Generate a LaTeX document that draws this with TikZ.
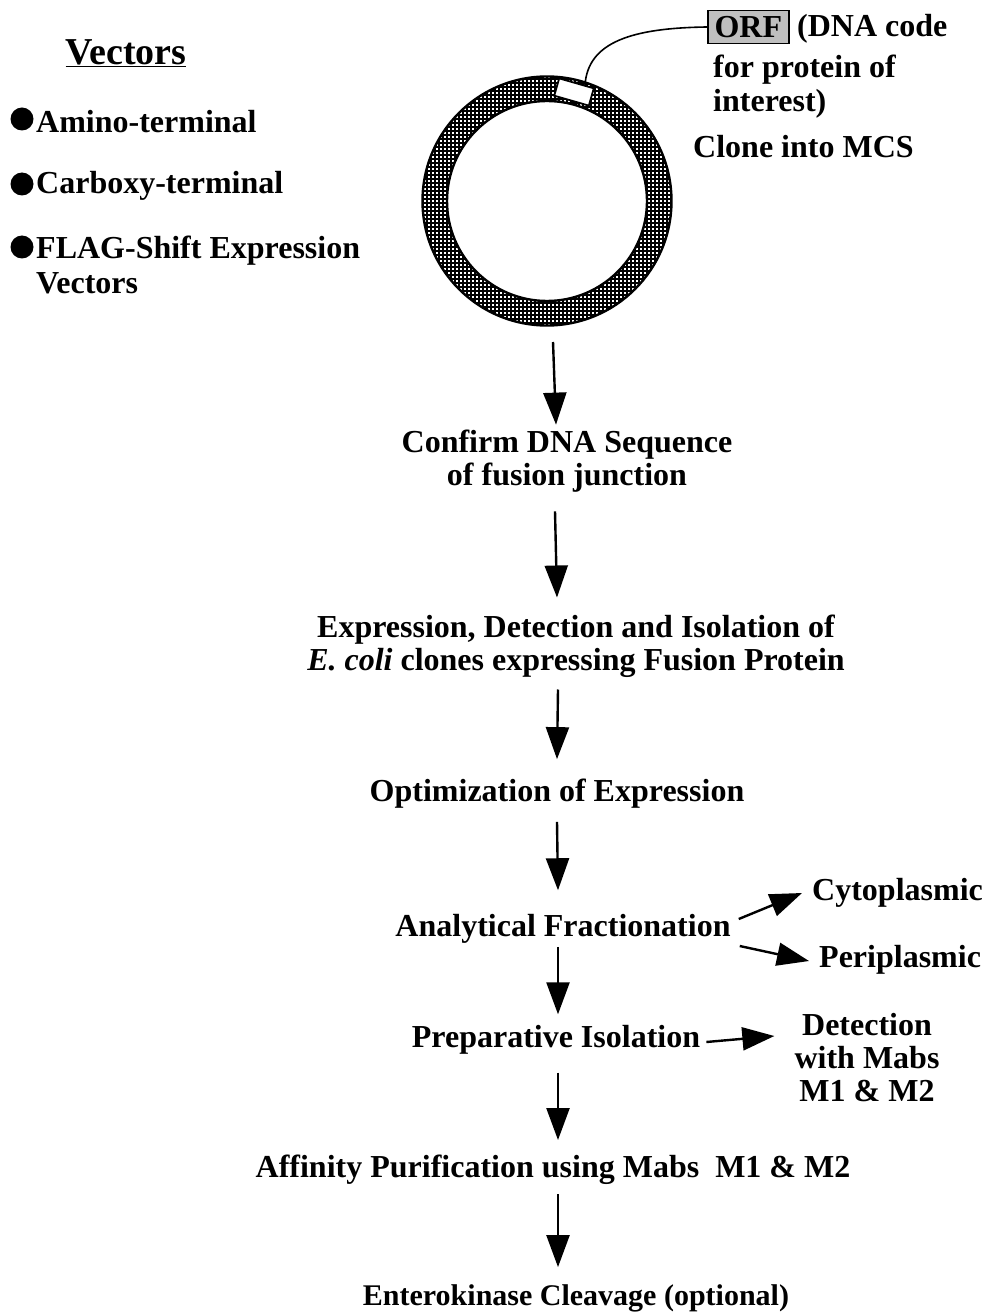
\documentclass[tikz,border=0pt]{standalone}
\usepackage{fontspec}
\setmainfont{Liberation Serif}
\usetikzlibrary{arrows.meta,patterns}
\pgfdeclarepatternformonly{ringgrid}{\pgfpointorigin}{\pgfqpoint{4.4pt}{4.4pt}}{\pgfqpoint{4.4pt}{4.4pt}}{%
  \pgfpathrectangle{\pgfpointorigin}{\pgfqpoint{4.4pt}{2.1pt}}%
  \pgfpathrectangle{\pgfpointorigin}{\pgfqpoint{2.1pt}{4.4pt}}%
  \pgfusepath{fill}}
\begin{document}
\begin{tikzpicture}[x=1pt,y=-1pt,
  txt/.style={font=\fontsize{32}{33}\selectfont\bfseries, inner sep=2pt, align=center},
  ltxt/.style={txt, anchor=west, align=left},
  arr/.style={line width=2.4pt, -{Triangle[length=32pt,width=23pt]}},
  bul/.style={circle, fill=black, minimum size=23pt, inner sep=0pt}]
\useasboundingbox (0,0) rectangle (987,1313);
% vector list
\node[txt, font=\fontsize{38}{40}\selectfont\bfseries] (vec) at (126,53) {\underline{Vectors}};
\node[bul] (b1) at (22,119) {};
\node[ltxt] (amino) at (34,122) {Amino-terminal};
\node[bul] (b2) at (22,184) {};
\node[ltxt] (carb) at (34,186) {Carboxy-terminal};
\node[bul] (b3) at (22,247) {};
\node[ltxt] (flag) at (34,251) {FLAG-Shift Expression};
\node[ltxt] (flag2) at (34,283) {Vectors};
% plasmid ring
\coordinate (c) at (547,201);
\fill[pattern=ringgrid, even odd rule] (c) circle [radius=124.5] (c) circle [radius=100];
\draw[line width=2.4pt] (c) circle [radius=124.5];
\draw[line width=2.4pt] (c) circle [radius=100];
\node[draw, fill=white, line width=1.8pt, minimum width=36pt, minimum height=18pt, rotate=-16, inner sep=0pt] (mcs) at (574,92) {};
\coordinate (ringbot) at (553,342);
% ORF
\node[draw, fill=gray!50, line width=1.6pt, font=\fontsize{32}{33}\selectfont\bfseries, inner sep=0pt, minimum height=33pt, minimum width=81pt, anchor=west] (orf) at (707,27) {ORF};
\node[ltxt] (dna) at (795,29) {(DNA code};
\node[ltxt] (prot) at (711,70) {for protein of};
\node[ltxt] (inter) at (711,104) {interest)};
\node[ltxt] (clone) at (691,147) {Clone into MCS};
\draw[line width=1.6pt] (mcs.49) .. controls (588,42) and (632,28) .. (orf.west);
% flow
\node[txt] (confirm) at (567,461) {Confirm DNA Sequence\\of fusion junction};
\node[txt] (expr) at (576,646) {Expression, Detection and Isolation of\\\textit{E. coli} clones expressing Fusion Protein};
\node[txt] (optim) at (557,794) {Optimization of Expression};
\node[txt] (anal) at (563,929) {Analytical Fractionation};
\node[txt, anchor=west] (cyto) at (810,893) {Cytoplasmic};
\node[txt, anchor=west] (peri) at (817,960) {Periplasmic};
\node[txt] (prep) at (556,1040) {Preparative Isolation};
\node[txt] (detect) at (867,1058) {Detection\\with Mabs\\M1 \& M2};
\node[txt] (affin) at (553,1170) {Affinity Purification using Mabs~~M1 \& M2};
\node[txt, font=\fontsize{30}{31}\selectfont\bfseries] (entero) at (576,1298) {Enterokinase Cleavage (optional)};
\draw[arr] (ringbot) -- ([xshift=-11pt,yshift=3pt]confirm.north);
\draw[arr] ([xshift=-12pt,yshift=-17pt]confirm.south) -- ([xshift=-19pt,yshift=15pt]expr.north);
\draw[arr] ([xshift=-18pt,yshift=-10pt]expr.south) -- ([yshift=18pt]optim.north);
\draw[arr] ([yshift=-11pt]optim.south) -- ([xshift=-5pt,yshift=22pt]anal.north);
\draw[arr] ([xshift=-5pt,yshift=-1pt]anal.south) -- ([xshift=2pt,yshift=9pt]prep.north);
\draw[arr] ([xshift=2pt,yshift=-16pt]prep.south) -- ([xshift=5pt,yshift=13pt]affin.north);
\draw[arr] ([xshift=5pt,yshift=-7pt]affin.south) -- ([xshift=-18pt,yshift=15pt]entero.north);
\draw[arr] ([xshift=6pt,yshift=10pt]anal.east) -- ([xshift=-8pt]cyto.west);
\draw[arr] ([xshift=7pt,yshift=-17pt]anal.east) -- ([xshift=-8pt,yshift=-1pt]peri.west);
\draw[arr] ([xshift=4pt,yshift=-2pt]prep.east) -- ([xshift=-18pt,yshift=22pt]detect.west);
\end{tikzpicture}
\end{document}
